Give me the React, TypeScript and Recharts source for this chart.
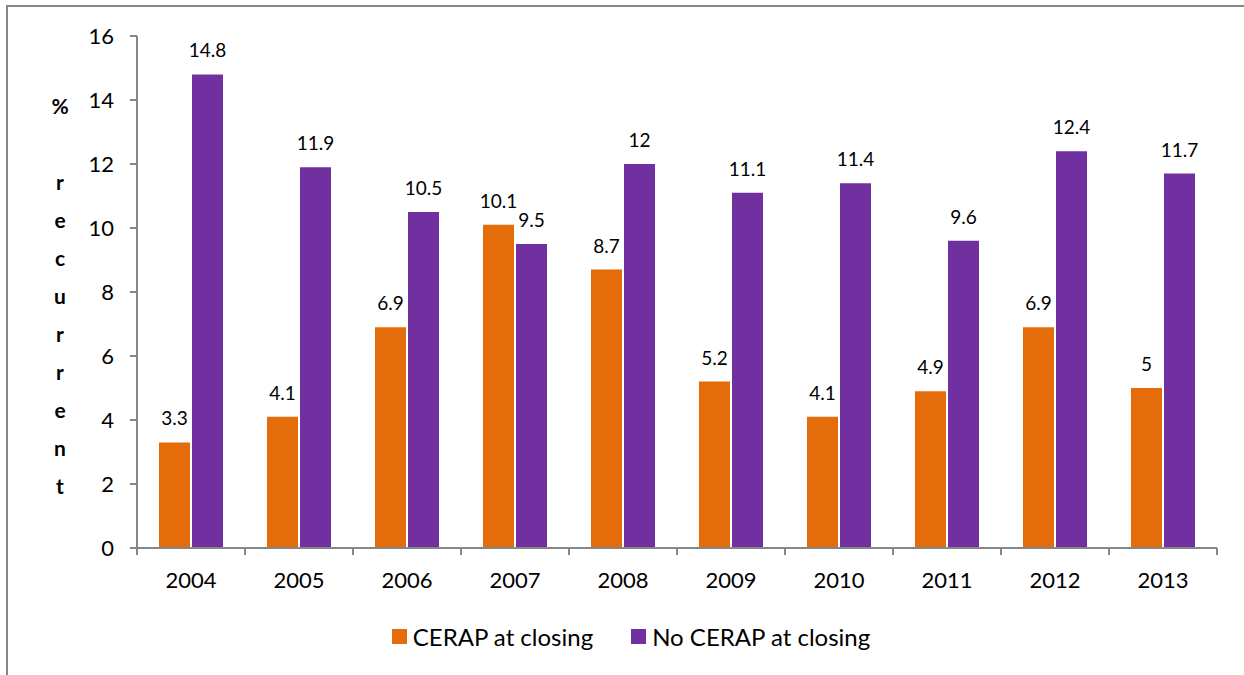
import { BarChart, Bar, XAxis, YAxis, LabelList } from "recharts";

const years = ["2004", "2005", "2006", "2007", "2008", "2009", "2010", "2011", "2012", "2013"];
const cerap = [3.3, 4.1, 6.9, 10.1, 8.7, 5.2, 4.1, 4.9, 6.9, 5];
const noCerap = [14.8, 11.9, 10.5, 9.5, 12, 11.1, 11.4, 9.6, 12.4, 11.7];
const yTicks = [0, 2, 4, 6, 8, 10, 12, 14, 16];
const yLabel = ["%", "", "r", "e", "c", "u", "r", "r", "e", "n", "t"];

const data = years.map((year, i) => ({ year, cerap: cerap[i], noCerap: noCerap[i] }));

const FONT = "Lato, 'Open Sans', sans-serif";
const AXIS = "#868686";
const ORANGE = "#E46C0A";
const PURPLE = "#7030A0";

const W = 1244;
const H = 675;
const PLOT_LEFT = 137;
const PLOT_RIGHT = 27;
const BAND = (W - PLOT_LEFT - PLOT_RIGHT) / years.length;

function YearTick(props: any) {
  const { x, y, payload, index } = props;
  const top = y - 8;
  const left = x - BAND / 2;
  return (
    <g>
      <line x1={left} x2={left} y1={top} y2={top + 7} stroke={AXIS} strokeWidth={2} />
      {index === years.length - 1 && (
        <line x1={left + BAND} x2={left + BAND} y1={top} y2={top + 7} stroke={AXIS} strokeWidth={2} />
      )}
      <text x={x} y={top + 40} textAnchor="middle" fontSize={22} fontFamily={FONT} fill="#000">
        {payload.value}
      </text>
    </g>
  );
}

function LegendBox() {
  const items = [
    { label: "CERAP at closing", color: ORANGE },
    { label: "No CERAP at closing", color: PURPLE },
  ];
  return (
    <div style={{ display: "flex", justifyContent: "center", gap: 38, fontFamily: FONT, fontSize: 24, color: "#000" }}>
      {items.map((it) => (
        <div key={it.label} style={{ display: "flex", alignItems: "center" }}>
          <span style={{ width: 15, height: 15, background: it.color, display: "inline-block", marginRight: 6 }} />
          {it.label}
        </div>
      ))}
    </div>
  );
}

export default function App() {
  return (
    <div style={{ position: "absolute", left: 0, top: 0, width: W, height: H, background: "#fff", overflow: "hidden" }}>
      <div
        style={{
          position: "absolute",
          left: 6,
          top: 5,
          width: W,
          height: H,
          borderTop: `2px solid ${AXIS}`,
          borderLeft: `2px solid ${AXIS}`,
        }}
      />
      <svg style={{ position: "absolute", left: 0, top: 0 }} width={140} height={H}>
        {yLabel.map((ch, i) => (
          <text key={i} x={60} y={114 + i * 38} textAnchor="middle" fontSize={21} fontWeight="bold" fontFamily={FONT} fill="#000">
            {ch}
          </text>
        ))}
      </svg>
      <div style={{ position: "absolute", left: 0, top: 0 }}>
        <BarChart
          width={W}
          height={H}
          data={data}
          margin={{ top: 36, right: PLOT_RIGHT, left: 0, bottom: 0 }}
          barCategoryGap={22}
          barGap={2}
        >
          <XAxis
            dataKey="year"
            height={127}
            axisLine={{ stroke: AXIS, strokeWidth: 2 }}
            tickLine={false}
            tick={<YearTick />}
            interval={0}
          />
          <YAxis
            width={PLOT_LEFT}
            domain={[0, 16]}
            ticks={yTicks}
            axisLine={{ stroke: AXIS, strokeWidth: 2 }}
            tickLine={{ stroke: AXIS, strokeWidth: 2 }}
            tickSize={7}
            tickMargin={16}
            tick={{ fontSize: 22, fontFamily: FONT, fill: "#000" }}
          />
          <Bar dataKey="cerap" name="CERAP at closing" fill={ORANGE} isAnimationActive={false}>
            <LabelList dataKey="cerap" position="top" offset={17} style={{ fontSize: 19, fontFamily: FONT, fill: "#000" }} />
          </Bar>
          <Bar dataKey="noCerap" name="No CERAP at closing" fill={PURPLE} isAnimationActive={false}>
            <LabelList dataKey="noCerap" position="top" offset={17} style={{ fontSize: 19, fontFamily: FONT, fill: "#000" }} />
          </Bar>
        </BarChart>
      </div>
      <div style={{ position: "absolute", top: 622, left: 9, width: W }}>
        <LegendBox />
      </div>
    </div>
  );
}
